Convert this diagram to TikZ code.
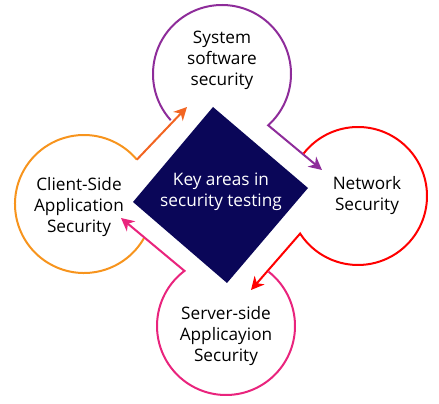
\documentclass[tikz,border=0pt]{standalone}
\usepackage{fontspec}
\setmainfont{Open Sans}
\usetikzlibrary{arrows.meta}
\definecolor{cpurple}{RGB}{142,44,154}
\definecolor{corange}{RGB}{247,148,29}
\definecolor{carrow}{RGB}{242,101,34}
\definecolor{cred}{RGB}{255,0,0}
\definecolor{cpink}{RGB}{233,36,125}
\definecolor{cnavy}{RGB}{10,6,88}
\tikzset{
  ring/.style={line width=2pt, -{Stealth[length=13pt,width=13pt,inset=4pt]}},
  lbl/.style={align=center, font=\fontsize{17.2}{21}\selectfont, text=black},
  keylbl/.style={align=center, font=\fontsize{17.2}{21}\selectfont, text=white}
}
\begin{document}
\begin{tikzpicture}[x=1pt,y=1pt]
\useasboundingbox (0,0) rectangle (439,404);
% centres
\coordinate (cP) at (222,330);
\coordinate (cO) at (84,200);
\coordinate (cR) at (358,208);
\coordinate (cK) at (226,78);
% arrow tips
\coordinate (tO) at (187,297);
\coordinate (tP) at (322,234);
\coordinate (tR) at (251,114);
\coordinate (tK) at (121,186);
% diamond
\fill[cnavy] (213,297) coordinate (dT) -- (308,216) coordinate (dR) -- (227,121) coordinate (dB) -- (133,202) coordinate (dL) -- cycle;
\node[keylbl] (key) at (221,212) {Key areas in\\security testing};
% circles with arrows
\draw[ring, cpurple] (cP) ++(222:69) arc[start angle=222, end angle=-48, radius=69] -- (tP);
\draw[line width=2pt, corange] (cO) ++(-29:69) arc[start angle=-29, end angle=-320, radius=69];
\draw[ring, carrow] (cO) ++(40:69) -- (tO);
\draw[ring, cred] (cR) ++(142:69) arc[start angle=142, end angle=-147, radius=69] -- (tR);
\draw[ring, cpink] (cK) ++(52:69) arc[start angle=52, end angle=-233, radius=69] -- (tK);
% labels
\node[lbl] (sys) at (222,344) {System\\software\\security};
\node[lbl] (cli) at (79,197) {Client-Side\\Application\\Security};
\node[lbl] (net) at (367,208) {Network\\Security};
\node[lbl] (srv) at (226,68) {Server-side\\Applicayion\\Security};
\end{tikzpicture}
\end{document}
